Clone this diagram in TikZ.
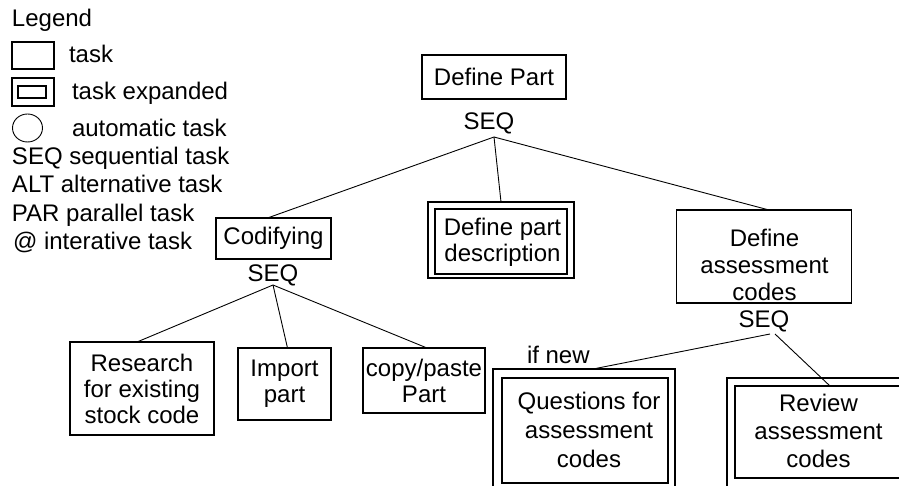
\documentclass[tikz,border=0pt]{standalone}
\usepackage{fontspec}
\setmainfont{Liberation Sans}
\usetikzlibrary{shapes.geometric,calc,fit}
\begin{document}
\begin{tikzpicture}[x=1pt,y=-1pt,
  every node/.style={font=\fontsize{24}{26}\selectfont, inner sep=0pt, outer sep=0pt},
  lbl/.style={anchor=base west},
  seqlbl/.style={anchor=base},
  taskbox/.style={draw, line width=1.4pt, align=center},
  outerbox/.style={draw, line width=1.7pt, inner sep=0pt},
  innerbox/.style={draw, line width=1.5pt, inner sep=0pt},
  conn/.style={line width=0.9pt},
  txt/.style={anchor=north, align=center}]
\useasboundingbox (0,0) rectangle (899,486);
\clip (0,0) rectangle (899,486);

% Legend
\node[lbl] (leg) at (12,27) {Legend};
\node[taskbox, fit={(12,42) (54,69)}] (legtask) {};
\node[lbl] (legtasktxt) at (69,63) {task};
\node[outerbox, line width=1.9pt, fit={(12,78) (54,106)}] (legexp) {};
\node[innerbox, line width=1.2pt, fit={(18,86) (46,98)}] (legexpin) {};
\node[lbl] (legexptxt) at (72,100) {task expanded};
\node[draw, line width=0.9pt, ellipse, minimum width=30pt, minimum height=28pt] (legauto) at (27.5,128) {};
\node[lbl] (legautotxt) at (72,137) {automatic task};
\node[lbl] (legseq) at (12,165) {SEQ sequential task};
\node[lbl] (legalt) at (12,193) {ALT alternative task};
\node[lbl] (legpar) at (12,222) {PAR parallel task};
\node[lbl] (legit) at (13,250) {@ interative task};

% Tree
\node[taskbox, minimum width=144pt, minimum height=44pt] (dp) at (494,77) {Define Part};
\node[seqlbl] (dpseq) at (489,130) {SEQ};
\coordinate (dps) at (494,137);

\node[taskbox, minimum width=115pt, minimum height=41pt] (cod) at (273.5,238.5) {Codifying};
\node[seqlbl] (codseq) at (273,282) {SEQ};
\coordinate (cods) at (273,285);

\node[outerbox, fit={(428,202) (574,278)}] (dpd) {};
\node[innerbox, fit={(435,209) (567,274)}] (dpdin) {};
\node[txt] (dpdtxt) at (502.5,218.6) {Define part\\description};

\node[taskbox, fit={(676.5,210) (851.5,303)}] (dac) {};
\node[txt, font=\fontsize{24}{27}\selectfont] (dactxt) at (764.5,229) {Define\\assessment\\codes};
\node[seqlbl] (dacseq) at (764,327) {SEQ};
\coordinate (dacs1) at (770,334);
\coordinate (dacs2) at (775,334);

\node[taskbox, minimum width=144pt, minimum height=93pt] (res) at (142,388.5) {Research\\for existing\\stock code};
\node[taskbox, minimum width=93pt, minimum height=72pt] (imp) at (284.5,384) {Import\\part};
\node[taskbox, minimum width=122pt, minimum height=65pt] (cop) at (424,380.5) {copy/paste\\Part};

\node[outerbox, fit={(493,369) (675,490)}] (q) {};
\node[innerbox, fit={(502,378) (668,483)}] (qin) {};
\node[txt, font=\fontsize{24}{29}\selectfont] (qtxt) at (589,392.4) {Questions for\\assessment\\codes};
\node[lbl] (ifnew) at (527,363) {if new};

\node[outerbox, fit={(727,378) (915,490)}] (rev) {};
\node[innerbox, fit={(735,386) (908,478)}] (revin) {};
\node[txt, font=\fontsize{24}{28}\selectfont] (revtxt) at (818.5,394.4) {Review\\assessment\\codes};

% Connectors
\draw[conn] (dps) -- ($(cod.north)+(-6,0)$);
\draw[conn] (dps) -- (dpd.north);
\draw[conn] (dps) -- ($(dac.north)+(5,0)$);
\draw[conn] (cods) -- ($(res.north)+(-5,0)$);
\draw[conn] (cods) -- ($(imp.north)+(3,0)$);
\draw[conn] (cods) -- ($(cop.north)+(3,0)$);
\draw[conn] (dacs1) -- ($(q.north)+(9,0)$);
\draw[conn] (dacs2) -- ($(revin.north)+(8.5,0)$);
\end{tikzpicture}
\end{document}
